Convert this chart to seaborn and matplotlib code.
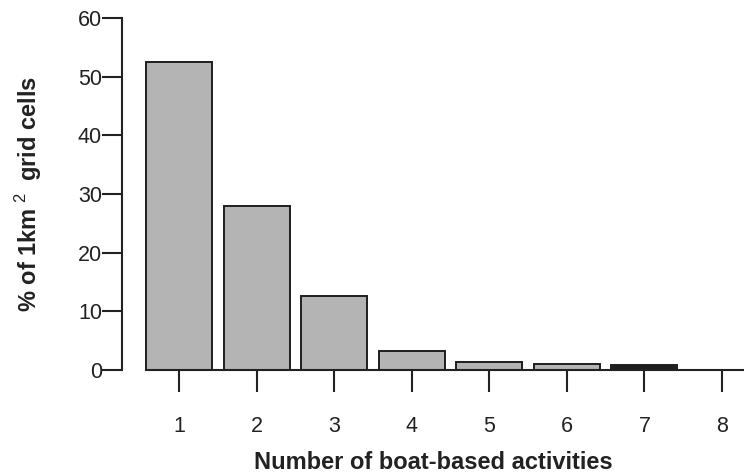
import matplotlib
matplotlib.use("Agg")
import matplotlib.pyplot as plt
import seaborn as sns
import pandas as pd

# Share of 1 km² grid cells by number of boat-based activities
activities = ["1", "2", "3", "4", "5", "6", "7", "8"]
pct_cells = [52.5, 27.9, 12.6, 3.2, 1.4, 1.05, 0.8, 0.0]
y_ticks = [0, 10, 20, 30, 40, 50, 60]

sns.set_theme(style="ticks")
plt.rcParams["font.family"] = ["Liberation Sans", "DejaVu Sans"]
plt.rcParams["mathtext.fontset"] = "custom"
plt.rcParams["mathtext.rm"] = "Liberation Sans"
plt.rcParams["mathtext.bf"] = "Liberation Sans:bold"

df = pd.DataFrame({"activities": activities, "pct": pct_cells})

fig = plt.figure(figsize=(7.44, 4.76), dpi=100)
ax = fig.add_axes([0.164, 0.2227, 0.836, 0.7395])

sns.barplot(data=df, x="activities", y="pct", ax=ax, color="#b4b4b4",
            saturation=1, width=0.85, edgecolor="#1e1e1e", linewidth=1.4)
# the shallow bar for 7 activities prints solid dark
ax.patches[6].set_facecolor("#1e1e1e")

ax.set_ylim(0, 60)
ax.set_xlim(-0.735, 7.284)
ax.set_yticks(y_ticks)

for side in ["top", "right"]:
    ax.spines[side].set_visible(False)
for side in ["left", "bottom"]:
    ax.spines[side].set_linewidth(1.5)
    ax.spines[side].set_color("#222222")
ax.spines["bottom"].set_bounds(-0.425, 7.284)

ax.tick_params(axis="y", length=14.5, width=1.5, pad=0, labelsize=15.5,
               colors="#222222", labelcolor="#222222")
ax.tick_params(axis="x", length=16, width=1.5, pad=17, labelsize=15.5,
               colors="#222222", labelcolor="#222222")

ax.set_xlabel("Number of boat-based activities", fontsize=17,
              fontweight="bold", color="#222222")
ax.xaxis.set_label_coords(0.5, -0.229)
ax.set_ylabel(r"% of 1km$^{\ 2\ }$ grid cells", fontsize=17,
              fontweight="bold", color="#222222")
ax.yaxis.set_label_coords(-0.126, 0.5)

fig.savefig("out.png", dpi=100)
